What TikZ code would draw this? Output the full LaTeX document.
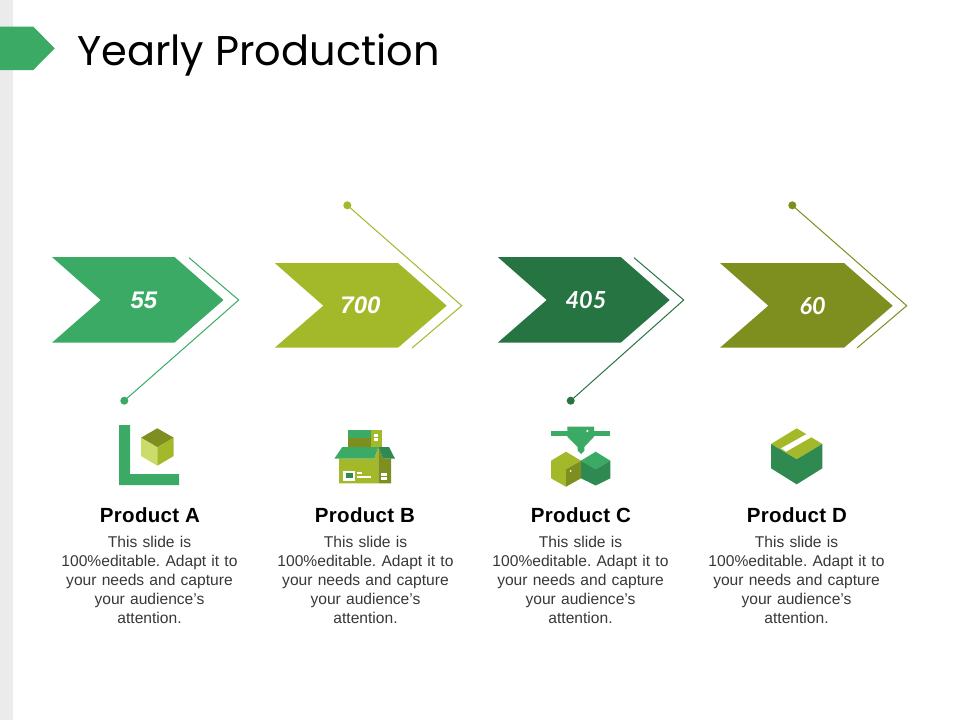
\documentclass[tikz,border=0pt]{standalone}
\usepackage{fontspec}
\setmainfont{Liberation Sans}
\newfontfamily\titlefont{Poppins}
\newfontfamily\numfont{Lato}
\newfontfamily\prodfont[LetterSpace=1.5]{Liberation Sans}
\definecolor{gA}{HTML}{3BAA64}
\definecolor{gB}{HTML}{A3B92A}
\definecolor{gC}{HTML}{277443}
\definecolor{gD}{HTML}{7F8F1F}
\definecolor{gL}{HTML}{CBDC6A}
\definecolor{gE}{HTML}{2E8A50}
\tikzset{
  x=1pt,y=-1pt,
  numlabel/.style={font=\fontsize{24}{24}\selectfont\bfseries\itshape,text=white,inner sep=0pt},
  numlabelb/.style={font=\numfont\fontsize{23.5}{24}\selectfont\bfseries\itshape,text=white,inner sep=0pt},
  prodname/.style={font=\prodfont\fontsize{20.5}{22}\selectfont\bfseries,text=black,inner sep=0pt},
  prodtext/.style={font=\frenchspacing\fontsize{15.6}{19}\selectfont,text=black!78,align=center,inner sep=0pt,text width=195pt},
  dotmark/.style={circle,inner sep=0pt,minimum size=8pt},
  thinline/.style={line width=1pt}
}
\begin{document}
\begin{tikzpicture}
\useasboundingbox (0,0) rectangle (960,720);
\fill[white] (0,0) rectangle (960,720);
\fill[black!8] (0,0) rectangle (12.7,720);
% header
\fill[gA] (0,26.7) -- (33.3,26.7) -- (54.7,48.3) -- (33.3,70) -- (0,70) -- cycle;
\node[font=\titlefont\fontsize{41.5}{50}\selectfont,anchor=west,inner sep=0pt] (title) at (77,55) {Yearly Production};
% chevrons
\fill[gA] (52,257) -- (174.5,257) -- (223.5,300) -- (174.5,342.7) -- (52,342.7) -- (100.7,300) -- cycle;
\fill[gB] (274.7,263) -- (398,263) -- (446.7,305.7) -- (398,347.7) -- (274.7,347.7) -- (323.3,305.7) -- cycle;
\fill[gC] (497.7,257) -- (620.7,257) -- (669.7,300) -- (620.7,342.7) -- (497.7,342.7) -- (546.7,300) -- cycle;
\fill[gD] (720,263) -- (844,263) -- (892.7,305.7) -- (844,347.7) -- (720,347.7) -- (768.3,305.7) -- cycle;
\node[numlabel] (nA) at (144,300) {55};
\node[numlabel] (nB) at (360.5,305.7) {700};
\node[numlabelb] (nC) at (586,300) {405};
\node[numlabelb] (nD) at (812.7,306) {60};
% leader lines
\node[dotmark,fill=gA] (dA) at (124.3,400.7) {};
\node[dotmark,fill=gB] (dB) at (347.3,205.3) {};
\node[dotmark,fill=gC] (dC) at (570.7,400.7) {};
\node[dotmark,fill=gD] (dD) at (792.3,205.3) {};
\coordinate (tA) at (238.7,300);
\coordinate (sA) at (189,257.7);
\coordinate (tB) at (461.7,305.7);
\coordinate (sB) at (412,348);
\coordinate (tC) at (683.7,300);
\coordinate (sC) at (634,257.7);
\coordinate (tD) at (906.7,305.7);
\coordinate (sD) at (857,348);
\draw[thinline,gA] (dA.center) -- (tA) -- (sA);
\draw[thinline,gB] (dB.center) -- (tB) -- (sB);
\draw[thinline,gC] (dC.center) -- (tC) -- (sC);
\draw[thinline,gD] (dD.center) -- (tD) -- (sD);
% icon A
\fill[gA] (119,425) -- (130,425) -- (130,474) -- (179,474) -- (179,485) -- (119,485) -- cycle;
\fill[gD] (157.3,428.3) -- (173.7,437.7) -- (157.3,447.3) -- (141,437.7) -- cycle;
\fill[gL] (141,437.7) -- (157.3,447.3) -- (157.3,465.7) -- (141,456) -- cycle;
\fill[gB] (173.7,437.7) -- (157.3,447.3) -- (157.3,465.7) -- (173.7,456) -- cycle;
% icon B
\fill[gA] (348.3,430) rectangle (371,437.7);
\fill[gD] (348.3,437.7) rectangle (371,447);
\fill[gB] (371,430) rectangle (382.3,447);
\fill[white] (374,434) rectangle (378.3,437);
\fill[white] (374,438.3) rectangle (378.3,441.3);
\fill[gB] (339,458.7) -- (374.3,458.7) -- (378.3,447) -- (378.3,483.3) -- (339,483.3) -- cycle;
\fill[gD] (378.3,447) -- (383.3,458.7) -- (391,458.7) -- (391,483.3) -- (378.3,483.3) -- cycle;
\fill[gA] (342.3,447) -- (378.3,447) -- (374.3,458.7) -- (334.3,458.7) -- cycle;
\fill[gE] (378.3,447) -- (389,447) -- (395,458.7) -- (383.3,458.7) -- cycle;
\fill[white] (343.3,470.7) rectangle (355,480.7);
\fill[gE] (346,473) rectangle (352.7,478);
\fill[white] (356.7,472.3) rectangle (361.7,474.3);
\fill[white] (356.7,476.3) rectangle (371,478.3);
\fill[white] (381,473.3) rectangle (386.7,476);
\fill[white] (381,477.3) rectangle (386.7,480);
% icon C
\fill[gA] (551,431) rectangle (610,436);
\fill[gA] (567.3,426.7) -- (594,426.7) -- (594,436.7) -- (584.3,447) -- (584.3,450.7) -- (581,454) -- (577.7,450.7) -- (577.7,447) -- (567.3,436.7) -- cycle;
\fill[white] (587.3,431) circle[radius=1.2];
\fill[gB] (566,451.7) -- (551,460.7) -- (551,478.3) -- (566,486.7) -- (566,469.3) -- (581,460.7) -- cycle;
\fill[gD] (566,469.3) -- (581,460.7) -- (581,478.3) -- (566,486.7) -- cycle;
\fill[white] (570.7,471) circle[radius=1];
\fill[gA] (595.7,451.7) -- (610.3,460.7) -- (595.7,469.3) -- (581,460.7) -- cycle;
\fill[gE] (581,460.7) -- (595.7,469.3) -- (610.3,460.7) -- (610.3,478.3) -- (595.7,485.5) -- (581,478.3) -- cycle;
% icon D
\fill[gB] (796.7,428.3) -- (822.3,444) -- (796.7,459.3) -- (771,444) -- cycle;
\fill[white] (806.7,434) -- (811.7,437) -- (786,451.7) -- (781,448.3) -- cycle;
\fill[gE] (771,444) -- (796.7,459.3) -- (822.3,444) -- (822.3,468.3) -- (796.7,484.3) -- (771,468.3) -- cycle;
% captions
\node[prodname] (pA) at (150,515) {Product A};
\node[prodname] (pB) at (365,515) {Product B};
\node[prodname] (pC) at (581,515) {Product C};
\node[prodname] (pD) at (797,515) {Product D};
\node[prodtext,anchor=north] (tA1) at (149.5,536) {This slide is\\100\%editable. Adapt it to\\your needs and capture\\your audience’s\\attention.};
\node[prodtext,anchor=north] (tB1) at (365.5,536) {This slide is\\100\%editable. Adapt it to\\your needs and capture\\your audience’s\\attention.};
\node[prodtext,anchor=north] (tC1) at (580.5,536) {This slide is\\100\%editable. Adapt it to\\your needs and capture\\your audience’s\\attention.};
\node[prodtext,anchor=north] (tD1) at (796.5,536) {This slide is\\100\%editable. Adapt it to\\your needs and capture\\your audience’s\\attention.};
\end{tikzpicture}
\end{document}
